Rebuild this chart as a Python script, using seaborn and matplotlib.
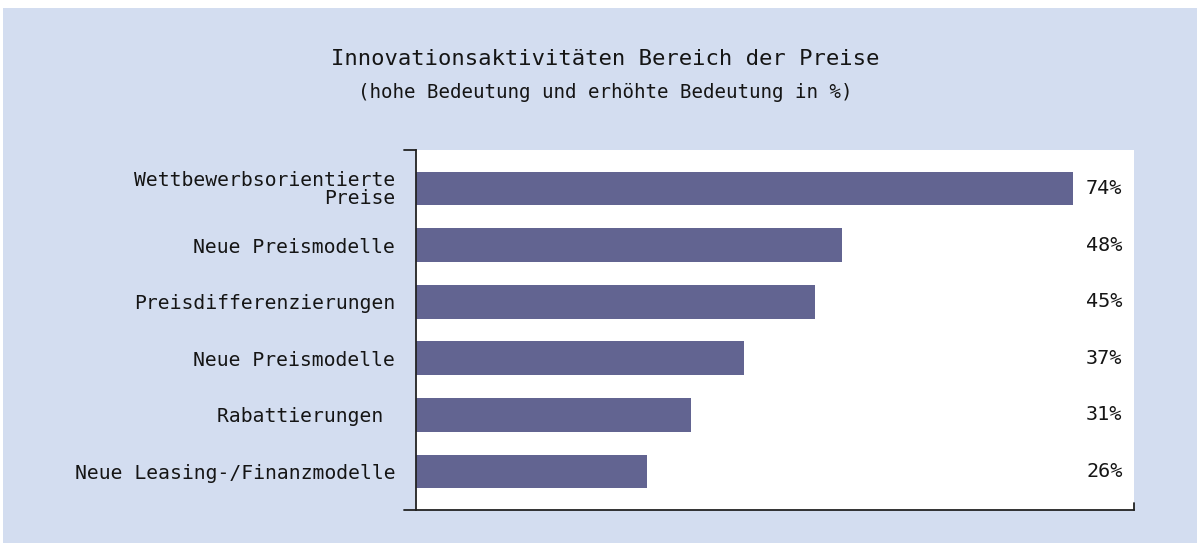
import matplotlib
matplotlib.use("Agg")
import matplotlib.pyplot as plt
import seaborn as sns
import pandas as pd

categories = ["Wettbewerbsorientierte\nPreise", "Neue Preismodelle", "Preisdifferenzierungen",
              "Neue Preismodelle", "Rabattierungen ", "Neue Leasing-/Finanzmodelle"]
values = [74, 48, 45, 37, 31, 26]
value_labels = ["74%", "48%", "45%", "37%", "31%", "26%"]

title = "Innovationsaktivitäten Bereich der Preise"
subtitle = "(hohe Bedeutung und erhöhte Bedeutung in %)"

sns.set_theme(style="white")
plt.rcParams['font.family'] = ['DejaVu Sans Mono', 'DejaVu Sans']

BG = "#D3DDF0"
BAR = "#626491"
TXT = "#151515"

fig = plt.figure(figsize=(11.97, 5.43), dpi=100)
fig.patch.set_facecolor("white")
# light blue panel
fig.add_artist(plt.Rectangle((3/1197, 0), 1 - 3/1197, 1 - 8/543, transform=fig.transFigure,
                             facecolor=BG, edgecolor="none", zorder=0))

ax = fig.add_axes([416/1197, 1 - 510/543, (1134 - 416)/1197, (510 - 150)/543])
ax.set_facecolor("white")

keys = [str(i) for i in range(len(values))]
df = pd.DataFrame({"key": keys, "value": values})
sns.barplot(data=df, x="value", y="key", orient="h", color=BAR, width=0.6,
            saturation=1, ax=ax, edgecolor="none")

ax.set_xlim(0, 80.9)
ax.set_ylim(5.68, -0.68)
ax.set_yticks(range(len(categories)))
ax.set_yticklabels(categories, fontsize=14.2, color=TXT, linespacing=0.92)
ax.set_xticks([])
ax.set_xlabel("")
ax.set_ylabel("")
ax.tick_params(axis="y", length=0, pad=15)

for i, lab in enumerate(value_labels):
    ax.text(79.6, i, lab, ha="right", va="center", fontsize=14.5, color=TXT)

for s in ["top", "right"]:
    ax.spines[s].set_visible(False)
for s in ["left", "bottom"]:
    ax.spines[s].set_color("#222222")
    ax.spines[s].set_linewidth(1.3)

# small end ticks like the reference
ax.plot([-1.4, 0], [-0.68, -0.68], color="#222222", lw=1.3, clip_on=False)
ax.plot([-1.4, 0], [5.68, 5.68], color="#222222", lw=1.3, clip_on=False)
ax.plot([80.9, 80.9], [5.68, 5.55], color="#222222", lw=1.3, clip_on=False)

fig.text(605/1197, 1 - 59/543, title, ha="center", va="center", fontsize=16, color=TXT)
fig.text(605/1197, 1 - 93/543, subtitle, ha="center", va="center", fontsize=13.8, color=TXT)

fig.savefig("out.png", dpi=100, facecolor=fig.get_facecolor())
